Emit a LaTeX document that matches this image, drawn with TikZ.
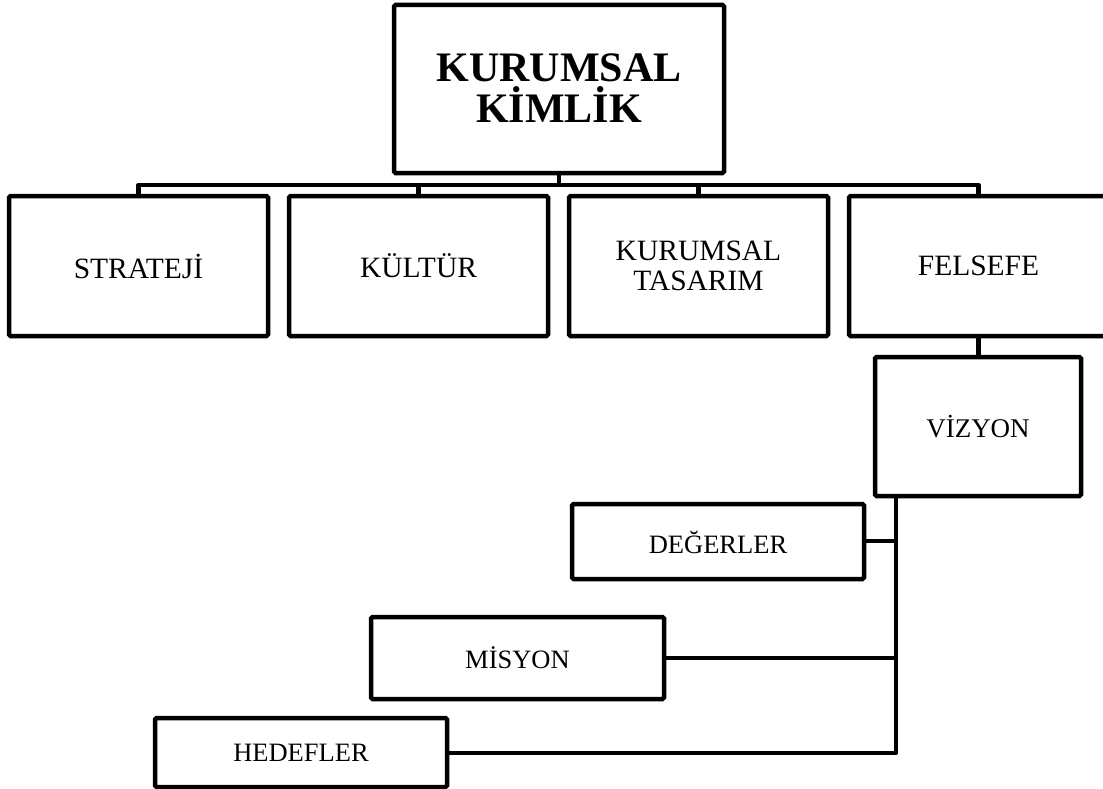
\documentclass[tikz,border=0pt]{standalone}
\usepackage{fontspec}
\setmainfont{Liberation Serif}
\begin{document}
\begin{tikzpicture}[x=1pt,y=-1pt,
  box/.style={draw=black,line width=4.5pt,rounded corners=1.5pt,fill=white},
  link/.style={draw=black,line width=4.5pt,line join=round},
  big/.style={font=\fontsize{29.5}{29.5}\selectfont,align=center},
  small/.style={font=\fontsize{26.5}{28}\selectfont,align=center}]
\useasboundingbox (0,0) rectangle (1103,789);
\begin{scope}
\clip (0,0) rectangle (1103,789);
% boxes
\draw[box] (394,5) rectangle (724,173);
\node[font=\bfseries\fontsize{42}{41}\selectfont,align=center] (top) at (559,88) {KURUMSAL\\KİMLİK};
\coordinate (topS) at (559,173);

\draw[box] (9,196) rectangle (268,336);
\node[big] (s1) at (138.5,266) {STRATEJİ};
\draw[box] (289,196) rectangle (548,336);
\node[big] (s2) at (418.5,266) {KÜLTÜR};
\draw[box] (569,196) rectangle (828,336);
\node[big] (s3) at (698.5,266) {KURUMSAL\\TASARIM};
\draw[box] (849,196) rectangle (1108,336);
\node[big] (s4) at (978.5,266) {FELSEFE};

\draw[box] (875,357) rectangle (1081,496);
\node[font=\fontsize{27}{29}\selectfont] (viz) at (978,427) {VİZYON};

\draw[box] (572,504) rectangle (864,579);
\node[small] (deg) at (718,542) {DEĞERLER};
\draw[box] (371,617) rectangle (664,699);
\node[small] (mis) at (517.5,658) {MİSYON};
\draw[box] (155,718) rectangle (447,787);
\node[small] (hed) at (301,753) {HEDEFLER};

% named anchor coordinates
\coordinate (bar) at (559,185);
\coordinate (t1) at (138.5,196);
\coordinate (t2) at (418.5,196);
\coordinate (t3) at (698.5,196);
\coordinate (t4) at (978.5,196);
\coordinate (fb) at (978.5,336);
\coordinate (vt) at (978.5,357);
\coordinate (vb) at (896,496);
\coordinate (degR) at (864,541);
\coordinate (misR) at (664,658);
\coordinate (hedR) at (447,753);

% connectors
\draw[link] (topS) -- (bar);
\draw[link] (t1) -- ++(0,-11) -| (t4);
\draw[link] (t2) -- ++(0,-11);
\draw[link] (t3) -- ++(0,-11);
\draw[link] (fb) -- (vt);
\draw[link] (vb) |- (hedR);
\draw[link] (degR) -- (degR -| vb);
\draw[link] (misR) -- (misR -| vb);
\end{scope}
\end{tikzpicture}
\end{document}
